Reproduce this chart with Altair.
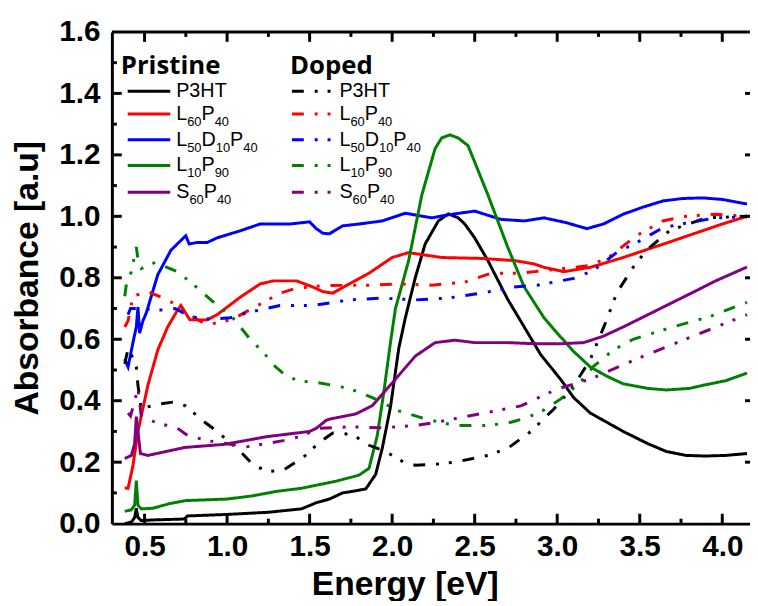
import altair as alt
import pandas as pd

# ---------------- data ----------------
p3ht_x = [0.38, 0.42, 0.44, 0.45, 0.46, 0.48, 0.55, 0.74, 0.76, 1.0, 1.25, 1.45, 1.54, 1.62, 1.70, 1.76, 1.84, 1.90, 1.94, 1.99, 2.04, 2.08, 2.14, 2.20, 2.28, 2.34, 2.40, 2.44, 2.50, 2.58, 2.70, 2.80, 2.90, 3.02, 3.10, 3.20, 3.30, 3.40, 3.55, 3.66, 3.78, 3.90, 4.02, 4.15]
p3ht_y = [0.0, 0.005, 0.02, 0.05, 0.02, 0.01, 0.012, 0.015, 0.025, 0.03, 0.037, 0.048, 0.068, 0.08, 0.10, 0.105, 0.113, 0.16, 0.245, 0.38, 0.57, 0.67, 0.80, 0.91, 0.985, 1.008, 0.995, 0.975, 0.93, 0.856, 0.73, 0.64, 0.55, 0.47, 0.41, 0.36, 0.33, 0.30, 0.26, 0.235, 0.222, 0.22, 0.222, 0.228]

l60_x = [0.38, 0.40, 0.43, 0.46, 0.52, 0.58, 0.64, 0.70, 0.72, 0.775, 0.88, 0.94, 1.08, 1.20, 1.28, 1.42, 1.52, 1.58, 1.64, 1.74, 1.86, 2.00, 2.10, 2.30, 2.54, 2.74, 2.86, 2.92, 3.04, 3.20, 3.40, 3.70, 4.00, 4.15]
l60_y = [0.116, 0.115, 0.19, 0.30, 0.45, 0.565, 0.64, 0.695, 0.71, 0.663, 0.663, 0.68, 0.737, 0.78, 0.79, 0.79, 0.77, 0.755, 0.75, 0.78, 0.815, 0.866, 0.882, 0.866, 0.863, 0.856, 0.845, 0.834, 0.82, 0.834, 0.866, 0.92, 0.975, 1.0]

l50_x = [0.38, 0.40, 0.43, 0.45, 0.46, 0.47, 0.49, 0.51, 0.58, 0.66, 0.75, 0.77, 0.82, 0.88, 0.94, 1.08, 1.20, 1.38, 1.50, 1.54, 1.58, 1.62, 1.70, 1.80, 1.94, 2.08, 2.24, 2.34, 2.50, 2.66, 2.80, 2.92, 3.05, 3.18, 3.28, 3.40, 3.52, 3.64, 3.76, 3.88, 4.00, 4.15]
l50_y = [0.535, 0.51, 0.59, 0.64, 0.705, 0.62, 0.66, 0.685, 0.81, 0.89, 0.937, 0.91, 0.915, 0.915, 0.93, 0.953, 0.975, 0.975, 0.982, 0.96, 0.945, 0.943, 0.969, 0.975, 0.985, 1.01, 0.995, 1.005, 1.017, 0.99, 0.985, 0.995, 0.98, 0.96, 0.975, 1.007, 1.03, 1.05, 1.058, 1.06, 1.055, 1.04]

l10_x = [0.38, 0.42, 0.44, 0.45, 0.46, 0.48, 0.55, 0.65, 0.75, 1.0, 1.15, 1.30, 1.45, 1.54, 1.66, 1.80, 1.86, 1.91, 1.95, 1.99, 2.02, 2.10, 2.18, 2.26, 2.30, 2.35, 2.40, 2.46, 2.58, 2.70, 2.80, 2.92, 3.00, 3.10, 3.20, 3.30, 3.40, 3.55, 3.66, 3.80, 3.90, 4.02, 4.15]
l10_y = [0.04, 0.045, 0.06, 0.14, 0.06, 0.048, 0.05, 0.065, 0.075, 0.08, 0.09, 0.105, 0.115, 0.125, 0.138, 0.158, 0.18, 0.287, 0.43, 0.59, 0.70, 0.856, 1.07, 1.22, 1.255, 1.265, 1.255, 1.23, 1.07, 0.90, 0.77, 0.67, 0.62, 0.56, 0.51, 0.48, 0.455, 0.44, 0.435, 0.44, 0.452, 0.465, 0.49]

s60_x = [0.38, 0.42, 0.44, 0.45, 0.46, 0.475, 0.52, 0.745, 0.985, 1.24, 1.50, 1.54, 1.60, 1.62, 1.78, 1.88, 2.02, 2.14, 2.26, 2.38, 2.50, 2.70, 2.84, 3.00, 3.16, 3.28, 3.40, 3.55, 3.70, 3.85, 3.96, 4.15]
s60_y = [0.212, 0.222, 0.26, 0.348, 0.30, 0.228, 0.222, 0.248, 0.258, 0.283, 0.30, 0.31, 0.336, 0.34, 0.357, 0.384, 0.47, 0.545, 0.589, 0.597, 0.589, 0.589, 0.586, 0.585, 0.589, 0.61, 0.64, 0.68, 0.72, 0.76, 0.79, 0.835]

d_p3ht_x = [0.38, 0.40, 0.42, 0.45, 0.46, 0.48, 0.52, 0.60, 0.68, 0.745, 0.865, 0.94, 1.08, 1.165, 1.26, 1.34, 1.46, 1.56, 1.64, 1.70, 1.78, 1.86, 1.96, 2.07, 2.14, 2.26, 2.38, 2.58, 2.70, 2.84, 2.98, 3.10, 3.20, 3.30, 3.36, 3.46, 3.54, 3.68, 3.90, 4.15]
d_p3ht_y = [0.52, 0.57, 0.55, 0.51, 0.45, 0.373, 0.38, 0.39, 0.396, 0.384, 0.33, 0.30, 0.235, 0.187, 0.17, 0.174, 0.215, 0.265, 0.295, 0.295, 0.283, 0.255, 0.235, 0.20, 0.19, 0.193, 0.20, 0.222, 0.245, 0.30, 0.373, 0.448, 0.534, 0.663, 0.75, 0.834, 0.889, 0.953, 0.995, 1.0]

d_l60_x = [0.38, 0.40, 0.43, 0.52, 0.63, 0.70, 0.80, 0.88, 1.02, 1.06, 1.22, 1.32, 1.42, 1.60, 1.88, 2.04, 2.24, 2.44, 2.60, 2.78, 2.86, 3.04, 3.20, 3.32, 3.48, 3.64, 3.78, 3.96, 4.15]
d_l60_y = [0.64, 0.66, 0.74, 0.755, 0.73, 0.71, 0.67, 0.647, 0.663, 0.673, 0.72, 0.75, 0.766, 0.775, 0.776, 0.78, 0.776, 0.786, 0.815, 0.815, 0.82, 0.83, 0.84, 0.87, 0.937, 0.985, 1.0, 1.007, 1.0]

d_l50_x = [0.40, 0.415, 0.48, 0.565, 0.64, 0.685, 0.78, 0.90, 1.02, 1.12, 1.32, 1.52, 1.74, 1.94, 2.14, 2.34, 2.54, 2.74, 2.88, 3.10, 3.22, 3.36, 3.50, 3.64, 3.80, 3.96, 4.15]
d_l50_y = [0.68, 0.70, 0.70, 0.695, 0.695, 0.70, 0.673, 0.665, 0.67, 0.686, 0.71, 0.71, 0.728, 0.734, 0.728, 0.734, 0.75, 0.77, 0.776, 0.798, 0.824, 0.882, 0.92, 0.963, 0.98, 0.995, 0.998]

d_l10_x = [0.38, 0.39, 0.42, 0.45, 0.46, 0.48, 0.565, 0.70, 0.80, 0.94, 1.03, 1.14, 1.22, 1.29, 1.36, 1.44, 1.54, 1.74, 1.88, 2.04, 2.20, 2.38, 2.58, 2.72, 2.82, 2.92, 3.02, 3.14, 3.22, 3.34, 3.46, 3.58, 3.70, 3.92, 4.15]
d_l10_y = [0.74, 0.78, 0.82, 0.90, 0.86, 0.83, 0.85, 0.82, 0.776, 0.71, 0.673, 0.60, 0.557, 0.512, 0.48, 0.464, 0.46, 0.44, 0.41, 0.367, 0.341, 0.319, 0.319, 0.33, 0.345, 0.37, 0.405, 0.46, 0.512, 0.565, 0.60, 0.62, 0.64, 0.673, 0.72]

d_s60_x = [0.40, 0.415, 0.44, 0.46, 0.48, 0.565, 0.70, 0.76, 0.88, 1.12, 1.34, 1.44, 1.56, 1.74, 1.94, 2.14, 2.28, 2.44, 2.60, 2.78, 3.00, 3.20, 3.50, 3.80, 4.15]
d_s60_y = [0.36, 0.35, 0.40, 0.44, 0.35, 0.33, 0.31, 0.287, 0.27, 0.25, 0.27, 0.283, 0.31, 0.315, 0.312, 0.319, 0.331, 0.348, 0.364, 0.383, 0.438, 0.47, 0.54, 0.605, 0.68]

materials = ["P3HT", "L60P40", "L50D10P40", "L10P90", "S60P40"]
colors = ["#000000", "#ff0000", "#0000ff", "#008000", "#800080"]
states = ["Pristine", "Doped"]

series = [
    ("P3HT", "Pristine", p3ht_x, p3ht_y),
    ("L60P40", "Pristine", l60_x, l60_y),
    ("L50D10P40", "Pristine", l50_x, l50_y),
    ("L10P90", "Pristine", l10_x, l10_y),
    ("S60P40", "Pristine", s60_x, s60_y),
    ("P3HT", "Doped", d_p3ht_x, d_p3ht_y),
    ("L60P40", "Doped", d_l60_x, d_l60_y),
    ("L50D10P40", "Doped", d_l50_x, d_l50_y),
    ("L10P90", "Doped", d_l10_x, d_l10_y),
    ("S60P40", "Doped", d_s60_x, d_s60_y),
]

# legend labels as (text, is_subscript) pieces
label_parts = {
    "P3HT": [("P3HT", 0)],
    "L60P40": [("L", 0), ("60", 1), ("P", 0), ("40", 1)],
    "L50D10P40": [("L", 0), ("50", 1), ("D", 0), ("10", 1), ("P", 0), ("40", 1)],
    "L10P90": [("L", 0), ("10", 1), ("P", 0), ("90", 1)],
    "S60P40": [("S", 0), ("60", 1), ("P", 0), ("40", 1)],
}

x_ticks = [0.5, 1.0, 1.5, 2.0, 2.5, 3.0, 3.5, 4.0]
x_minor = [0.75, 1.25, 1.75, 2.25, 2.75, 3.25, 3.75]
y_ticks = [0.0, 0.2, 0.4, 0.6, 0.8, 1.0, 1.2, 1.4, 1.6]
y_major_inner = [0.2, 0.4, 0.6, 0.8, 1.0, 1.2, 1.4]
y_minor = [0.1, 0.3, 0.5, 0.7, 0.9, 1.1, 1.3, 1.5]

# ---------------- layout ----------------
W, H = 645, 497
XMIN, XMAX = 0.302, 4.168
OX, OY = 113, 29  # page position of plot origin (for legend placement)

rows = []
for mat, st, xs, ys in series:
    for i, (xv, yv) in enumerate(zip(xs, ys)):
        rows.append({"x": xv, "y": yv, "material": mat, "state": st,
                     "key": mat + "_" + st, "i": i})
df = pd.DataFrame(rows)

xs_ = alt.Scale(domain=[XMIN, XMAX], nice=False, zero=False)
ys_ = alt.Scale(domain=[0, 1.6], nice=False, zero=False)

DASH = [12, 11, 3, 10, 3, 11]

lines = alt.Chart(df).mark_line(strokeWidth=3, clip=True).encode(
    x=alt.X("x:Q", scale=xs_, axis=alt.Axis(
        values=x_ticks, format=".1f", title="Energy [eV]", ticks=False,
        domainWidth=3, domainColor="black", labelFontSize=30, labelFontWeight="bold",
        labelFont="Liberation Sans", labelColor="black", labelPadding=8, grid=False,
        titleFontSize=34, titleFont="Liberation Sans", titleFontWeight="bold",
        titleColor="black", titlePadding=6, titleX=296, titleY=72,
        titleBaseline="alphabetic", labelFlush=False)),
    y=alt.Y("y:Q", scale=ys_, axis=alt.Axis(
        values=y_ticks, format=".1f", title="Absorbance [a.u]", ticks=False,
        domainWidth=3, domainColor="black", labelFontSize=30, labelFontWeight="bold",
        labelFont="Liberation Sans", labelColor="black", labelPadding=12, grid=False,
        titleFontSize=34, titleFont="Liberation Sans", titleFontWeight="bold",
        titleColor="black", titlePadding=14, labelFlush=False)),
    color=alt.Color("material:N", scale=alt.Scale(domain=materials, range=colors), legend=None),
    strokeDash=alt.StrokeDash("state:N", scale=alt.Scale(domain=states, range=[[1, 0], DASH]), legend=None),
    detail="key:N",
    order="i:Q",
)

# tick marks (inward)
def tick_layer(vals, axis, length):
    d = pd.DataFrame({"v": vals})
    base = alt.Chart(d).mark_rule(strokeWidth=3, color="black")
    if axis == "bottom":
        return base.encode(x=alt.X("v:Q", scale=xs_), y=alt.value(H), y2=alt.value(H - length))
    if axis == "top":
        return base.encode(x=alt.X("v:Q", scale=xs_), y=alt.value(0), y2=alt.value(length))
    if axis == "left":
        return base.encode(y=alt.Y("v:Q", scale=ys_), x=alt.value(0), x2=alt.value(length))
    return base.encode(y=alt.Y("v:Q", scale=ys_), x=alt.value(W - length), x2=alt.value(W))

ticks = [
    tick_layer(x_ticks, "bottom", 10), tick_layer(x_minor, "bottom", 5),
    tick_layer(x_ticks, "top", 10), tick_layer(x_minor, "top", 5),
    tick_layer(y_major_inner, "left", 10), tick_layer(y_minor, "left", 5),
    tick_layer(y_major_inner, "right", 5),
]

top_line = alt.Chart(pd.DataFrame({"a": [0]})).mark_rule(strokeWidth=3, color="black").encode(
    x=alt.value(0), x2=alt.value(W), y=alt.value(0))

# ---------------- legend ----------------
MAIN_W = {"L": 0.556, "P": 0.667, "D": 0.722, "S": 0.667, "H": 0.722, "T": 0.611,
          "0": 0.556, "1": 0.556, "2": 0.556, "3": 0.556, "4": 0.556, "5": 0.556,
          "6": 0.556, "7": 0.556, "8": 0.556, "9": 0.556}
MAIN_FS, SUB_FS = 20, 13
row_y = [89, 112, 138, 164, 191]
col = {"Pristine": (129, 172, 178, 122), "Doped": (295, 336, 343, 293)}

leg_lines, leg_main, leg_sub, heads = [], [], [], []
for st in states:
    lx0, lx1, tx, hx = col[st]
    heads.append({"px": hx - OX, "py": 72 - OY, "t": st})
    for r, (mat, c) in enumerate(zip(materials, colors)):
        yy = row_y[r] - OY
        leg_lines.append({"x0": lx0 - OX, "x1": lx1 - OX, "py": yy, "material": mat, "state": st})
        cx = tx - OX
        for txt, sub in label_parts[mat]:
            fs = SUB_FS if sub else MAIN_FS
            rec = {"px": cx, "py": yy + (6 if not sub else 12), "t": txt}
            (leg_sub if sub else leg_main).append(rec)
            cx += sum(MAIN_W[ch] for ch in txt) * fs

ll = alt.Chart(pd.DataFrame(leg_lines)).mark_rule(strokeWidth=3).encode(
    x=alt.X("x0:Q", scale=None), x2="x1:Q", y=alt.Y("py:Q", scale=None),
    color=alt.Color("material:N", scale=alt.Scale(domain=materials, range=colors), legend=None),
    strokeDash=alt.StrokeDash("state:N", scale=alt.Scale(domain=states, range=[[1, 0], DASH]), legend=None),
)
lm = alt.Chart(pd.DataFrame(leg_main)).mark_text(
    align="left", baseline="alphabetic", fontSize=MAIN_FS, font="Liberation Sans", color="black"
).encode(x=alt.X("px:Q", scale=None), y=alt.Y("py:Q", scale=None), text="t:N")
lsub = alt.Chart(pd.DataFrame(leg_sub)).mark_text(
    align="left", baseline="alphabetic", fontSize=SUB_FS, font="Liberation Sans", color="black"
).encode(x=alt.X("px:Q", scale=None), y=alt.Y("py:Q", scale=None), text="t:N")
lh = alt.Chart(pd.DataFrame(heads)).mark_text(
    align="left", baseline="alphabetic", fontSize=26, font="Open Sans", fontWeight="bold", color="black"
).encode(x=alt.X("px:Q", scale=None), y=alt.Y("py:Q", scale=None), text="t:N")

chart = alt.layer(lines, *ticks, top_line, ll, lm, lsub, lh).properties(
    width=W, height=H,
    autosize=alt.AutoSizeParams(type="none"),
    padding={"left": OX - 8, "top": OY - 8, "right": 0, "bottom": 75},
).configure_view(stroke=None).resolve_scale(x="shared", y="shared")

chart.save("out.html", embed_options={"renderer": "svg", "actions": False})
